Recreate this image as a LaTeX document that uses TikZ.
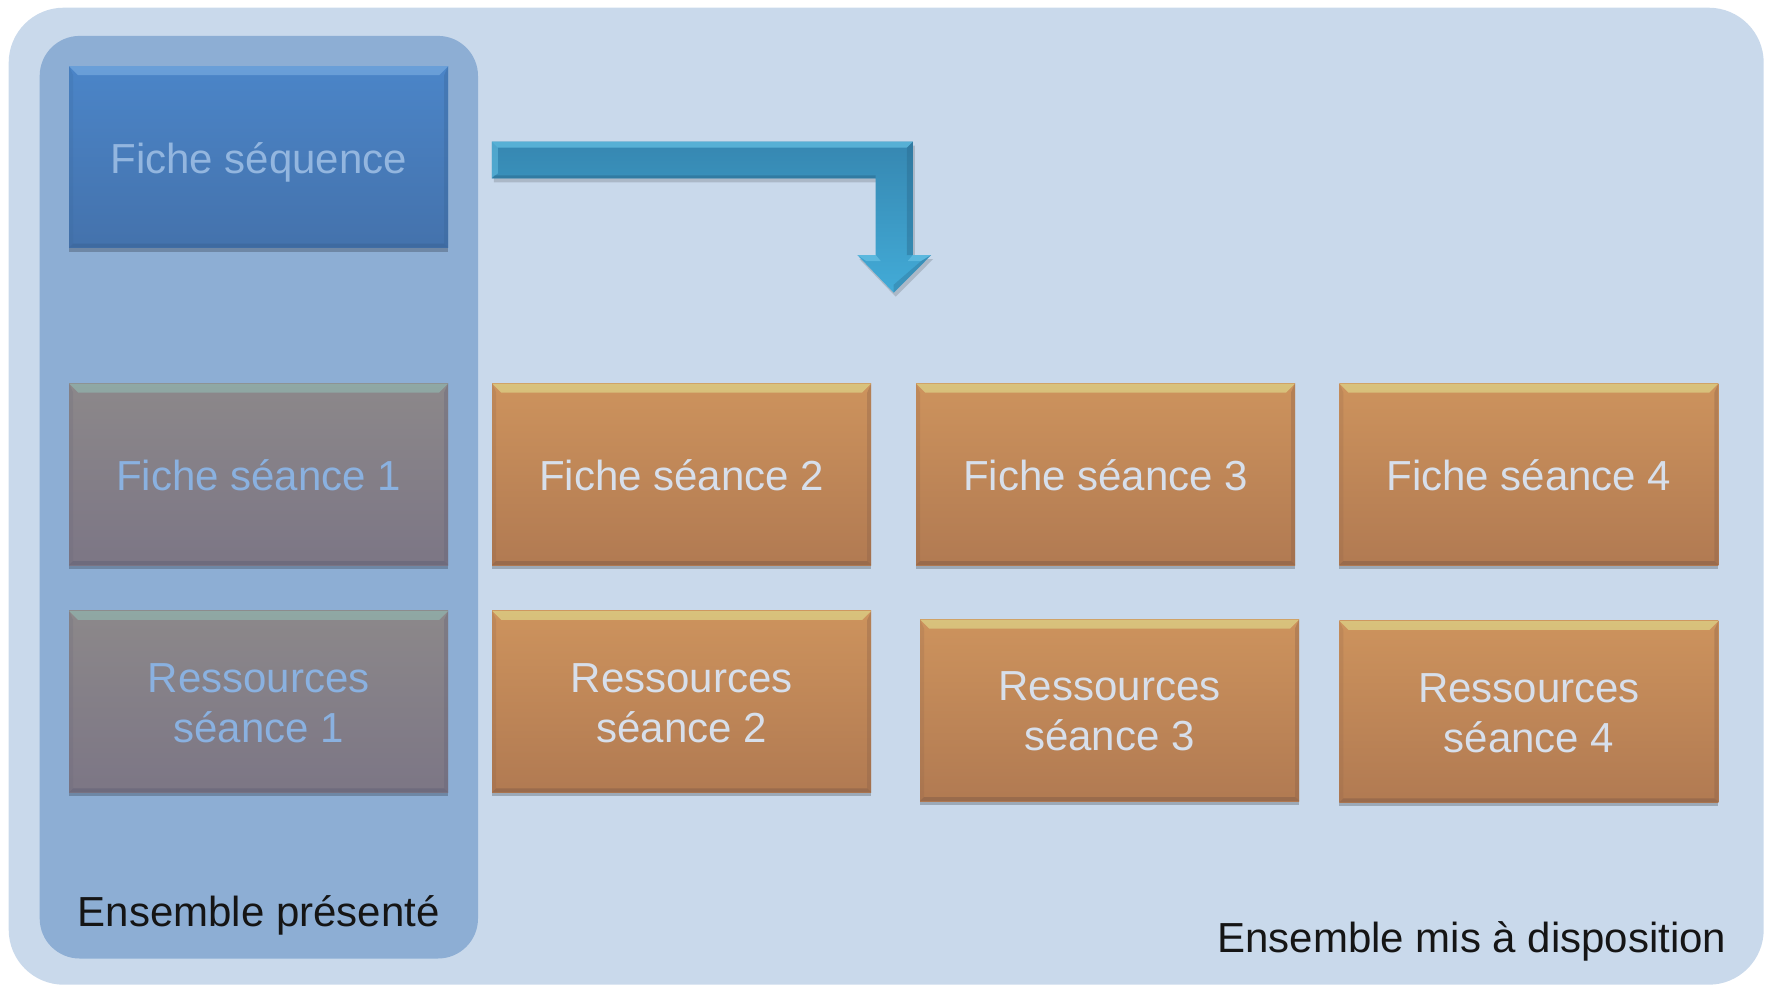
\documentclass[tikz,border=0pt]{standalone}
\usepackage{fontspec}
\setmainfont{Liberation Sans}
\usetikzlibrary{shadows,calc}
\definecolor{bgouter}{HTML}{C9D9EB}
\definecolor{bgpanel}{HTML}{8DAED4}
\definecolor{bluetop}{HTML}{4B85C8}
\definecolor{bluebot}{HTML}{4472AC}
\definecolor{bluebev}{HTML}{6A9FD8}
\definecolor{blueedge}{HTML}{3A6698}
\definecolor{graytop}{HTML}{8C888A}
\definecolor{graybot}{HTML}{7C7685}
\definecolor{graybev}{HTML}{8FA8A4}
\definecolor{grayedge}{HTML}{666478}
\definecolor{orgtop}{HTML}{CD935D}
\definecolor{orgbot}{HTML}{B17A52}
\definecolor{orgbev}{HTML}{D8C27C}
\definecolor{orgedge}{HTML}{8A6148}
\definecolor{seqtext}{HTML}{93B6DF}
\definecolor{graytext}{HTML}{8AB1E0}
\definecolor{orgtext}{HTML}{D7DFEB}
\definecolor{arrtop}{HTML}{3687B1}
\definecolor{arrbot}{HTML}{42ABD7}
\definecolor{arrlight}{HTML}{63BEE2}
\definecolor{arrdark}{HTML}{2B6C90}
\definecolor{labeltext}{HTML}{151515}
\begin{document}
\begin{tikzpicture}[x=1pt,y=-1pt,
  tile/.style n args={4}{rectangle, anchor=north west, inner sep=0pt,
    minimum width=379pt, minimum height=181.5pt,
    top color=#1, bottom color=#2,
    drop shadow={shadow xshift=0pt, shadow yshift=-4pt, opacity=0.22, fill=black},
    path picture={
      \shade[top color=#3, bottom color=#1] (path picture bounding box.north west) -- (path picture bounding box.north east)
        -- ([xshift=-9pt,yshift=-9pt]path picture bounding box.north east)
        -- ([xshift=9pt,yshift=-9pt]path picture bounding box.north west) -- cycle;
      \fill[#4, opacity=0.35] (path picture bounding box.north east) -- (path picture bounding box.south east)
        -- ([xshift=-4pt,yshift=4pt]path picture bounding box.south east)
        -- ([xshift=-4pt,yshift=-9pt]path picture bounding box.north east) -- cycle;
      \fill[#4, opacity=0.2] (path picture bounding box.north west) -- (path picture bounding box.south west)
        -- ([xshift=4pt,yshift=4pt]path picture bounding box.south west)
        -- ([xshift=4pt,yshift=-9pt]path picture bounding box.north west) -- cycle;
      \fill[#4, opacity=0.6] (path picture bounding box.south west) -- (path picture bounding box.south east)
        -- ([xshift=-4pt,yshift=4pt]path picture bounding box.south east)
        -- ([xshift=4pt,yshift=4pt]path picture bounding box.south west) -- cycle;
    }},
  bluetile/.style={tile={bluetop}{bluebot}{bluebev}{blueedge}},
  graytile/.style={tile={graytop}{graybot}{graybev}{grayedge}},
  orgtile/.style={tile={orgtop}{orgbot}{orgbev}{orgedge}},
  boxtext/.style={anchor=base, inner sep=0pt, text=#1, font=\fontsize{42}{50}\selectfont},
  lbl/.style={inner sep=0pt, text=labeltext, font=\fontsize{42}{50}\selectfont}
]
\useasboundingbox (0,0) rectangle (1772,985);

% containers
\node[rectangle, anchor=north west, fill=bgouter, rounded corners=55pt, inner sep=0pt,
      minimum width=1755pt, minimum height=977pt] (dispo) at (8.5,7.5) {};
\node[rectangle, anchor=north west, fill=bgpanel, rounded corners=40pt, inner sep=0pt,
      minimum width=438.3pt, minimum height=922.6pt] (pres) at (39.5,35.7) {};

% tiles
\node[bluetile] (fseq) at (68.9,66) {};
\node[graytile] (f1) at (68.9,383.3) {};
\node[orgtile]  (f2) at (492,383.3) {};
\node[orgtile]  (f3) at (915.8,383.3) {};
\node[orgtile]  (f4) at (1339.2,383.3) {};
\node[graytile] (r1) at (68.9,610.7) {};
\node[orgtile]  (r2) at (492,610.7) {};
\node[orgtile]  (r3) at (919.8,619.3) {};
\node[orgtile]  (r4) at (1339.2,620.7) {};

% tile texts
\node[boxtext=seqtext]  (tseq) at ($(fseq.center)+(0,16.6)$) {Fiche séquence};
\node[boxtext=graytext] (tf1) at ($(f1.center)+(0,16.7)$) {Fiche séance 1};
\node[boxtext=orgtext]  (tf2) at ($(f2.center)+(0,16.7)$) {Fiche séance 2};
\node[boxtext=orgtext]  (tf3) at ($(f3.center)+(0,16.7)$) {Fiche séance 3};
\node[boxtext=orgtext]  (tf4) at ($(f4.center)+(0,16.7)$) {Fiche séance 4};
\node[boxtext=graytext] (tr1a) at ($(r1.center)+(0,-9.5)$) {Ressources};
\node[boxtext=graytext] (tr1b) at ($(r1.center)+(0,40.5)$) {séance 1};
\node[boxtext=orgtext]  (tr2a) at ($(r2.center)+(0,-9.5)$) {Ressources};
\node[boxtext=orgtext]  (tr2b) at ($(r2.center)+(0,40.5)$) {séance 2};
\node[boxtext=orgtext]  (tr3a) at ($(r3.center)+(0,-9.5)$) {Ressources};
\node[boxtext=orgtext]  (tr3b) at ($(r3.center)+(0,40.5)$) {séance 3};
\node[boxtext=orgtext]  (tr4a) at ($(r4.center)+(0,-9.5)$) {Ressources};
\node[boxtext=orgtext]  (tr4b) at ($(r4.center)+(0,40.5)$) {séance 4};

% bottom labels
\node[lbl, anchor=base] (lpres) at ($(pres.south)+(0,-32.3)$) {Ensemble présenté};
\node[lbl, anchor=base east] (ldispo) at (1726.6,952.7) {Ensemble mis à disposition};

% bent arrow
\fill[black, opacity=0.15] (493.8,145.7) -- (914.8,145.7) -- (914.8,259) -- (933.2,259) -- (895.7,296.7)
  -- (859.3,259) -- (877.7,259) -- (877.7,182.3) -- (493.8,182.3) -- cycle;
\shade[top color=arrtop, bottom color=arrbot] (491.8,141.7) -- (912.8,141.7) -- (912.8,255) -- (931.2,255)
  -- (893.7,292.7) -- (857.3,255) -- (875.7,255) -- (875.7,178.3) -- (491.8,178.3) -- cycle;
\fill[arrlight, opacity=0.75] (491.8,141.7) -- (912.8,141.7) -- (906.8,147.7) -- (497.8,147.7) -- cycle;
\fill[arrlight, opacity=0.55] (491.8,141.7) -- (497.8,147.7) -- (497.8,173.3) -- (491.8,178.3) -- cycle;
\fill[arrdark, opacity=0.45] (912.8,141.7) -- (912.8,255) -- (906.8,255) -- (906.8,147.7) -- cycle;
\fill[arrdark, opacity=0.55] (491.8,178.3) -- (875.7,178.3) -- (875.7,175.3) -- (494.8,175.3) -- cycle;
\fill[arrlight, opacity=0.8] (857.3,255) -- (875.7,255) -- (880.7,261) -- (866.3,261) -- cycle;
\fill[arrlight, opacity=0.8] (912.8,255) -- (931.2,255) -- (921.2,261) -- (907.8,261) -- cycle;
\fill[arrdark, opacity=0.35] (931.2,255) -- (893.7,292.7) -- (893.7,284.7) -- (921.2,261) -- cycle;
\end{tikzpicture}
\end{document}
